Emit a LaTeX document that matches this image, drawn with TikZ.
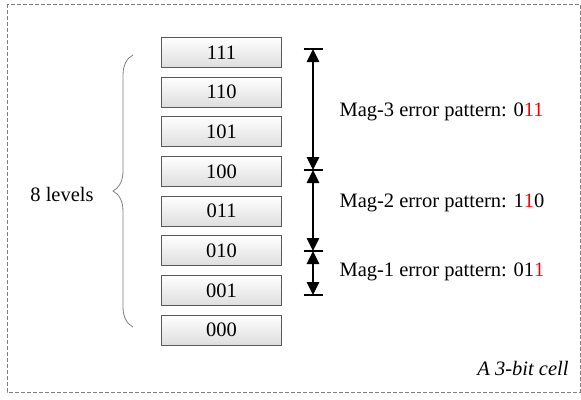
\documentclass[tikz,border=0pt]{standalone}
\usepackage{fontspec}
\setmainfont{Liberation Serif}
\usetikzlibrary{arrows.meta,calc,positioning,decorations.pathreplacing}

\begin{document}
\begin{tikzpicture}[
  x=1bp,y=-1bp,
  font=\fontsize{20.5bp}{24bp}\selectfont,
  level/.style={draw=black!65,line width=0.8bp,top color=white,bottom color=black!13,
    minimum width=120bp,minimum height=30bp,inner sep=0pt},
  span/.style={{Triangle[length=13bp,width=12.5bp]}-{Triangle[length=13bp,width=12.5bp]},line width=1.3bp},
  bar/.style={line width=1.1bp}
]
  \useasboundingbox (0,0) rectangle (581,399);
  \draw[gray,line width=1bp,dash pattern=on 4bp off 2bp] (7,4) rectangle (580,392);

  % the eight levels of the cell
  \foreach \lvl/\i in {111/0,110/1,101/2,100/3,011/4,010/5,001/6,000/7} {
    \node[level] (b\lvl) at (221.5,{52.3+39.7*\i}) {\lvl};
  }

  \draw[gray,line width=0.8bp,decorate,decoration={brace,amplitude=20bp}]
    (133,327) -- (133,55) coordinate[midway] (bmid);
  \node (lv) at (62,194) {8 levels};

  % error spans
  \coordinate (m0) at (313,49);
  \coordinate (m1) at (313,170);
  \coordinate (m2) at (313,251);
  \coordinate (m3) at (313,295);
  \foreach \c in {m0,m1,m2,m3}
    \draw[bar] ($(\c)+(-9.5,0)$) -- ($(\c)+(9.5,0)$);
  \draw[span] (m0) -- (m1);
  \draw[span] (m1) -- (m2);
  \draw[span] (m2) -- (m3);

  \node[anchor=west] (mag3) at (336,112) {Mag-3 error pattern: 0\textcolor{red}{11}};
  \node[anchor=west] (mag2) at (336,203) {Mag-2 error pattern: 1\textcolor{red}{1}0};
  \node[anchor=west] (mag1) at (336,272) {Mag-1 error pattern: 01\textcolor{red}{1}};

  \node[anchor=east] (cap) at (572,368) {\itshape A 3-bit cell};
\end{tikzpicture}
\end{document}
